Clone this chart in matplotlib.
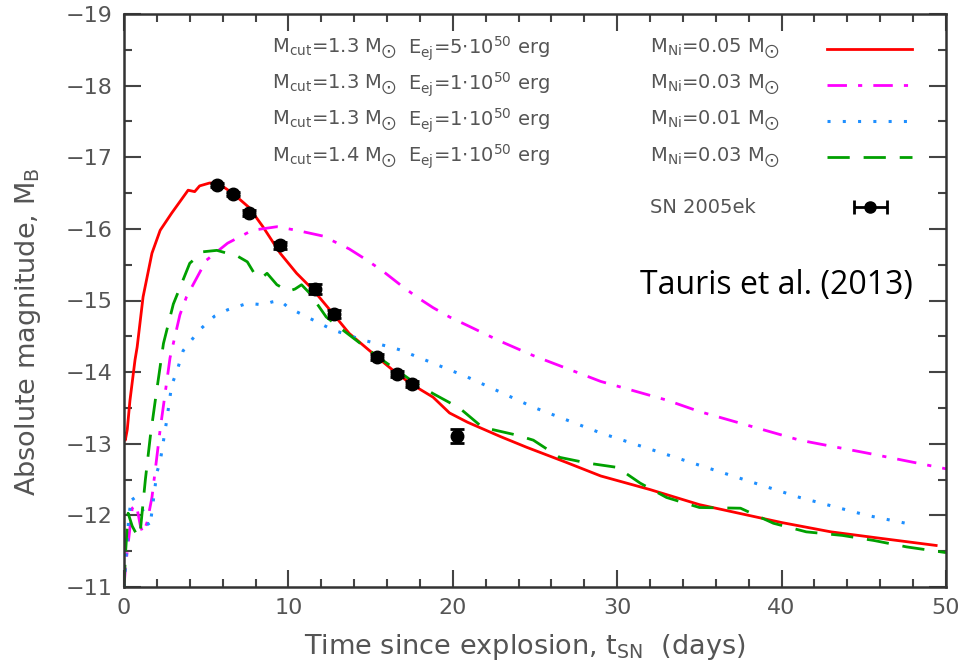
import numpy as np
import matplotlib.pyplot as plt

# model light curves (t in days, absolute B magnitude)
t_red = [0.0, 0.08, 0.2, 0.36, 0.67, 0.8, 1.16, 1.7, 2.2, 2.9, 3.4, 3.9, 4.3, 4.6, 5.2, 5.7,
         6.6, 7.6, 8.45, 9.5, 10.5, 11.5, 12.7, 13.7, 15.4, 16.6, 17.5, 18.8, 19.8, 20.9,
         22.9, 24.5, 26.9, 29.0, 32.0, 35.0, 38.0, 40.0, 43.0, 46.0, 49.4]
m_red = [-13.15, -13.05, -13.2, -13.6, -14.17, -14.35, -15.05, -15.66, -15.98, -16.22, -16.38,
         -16.54, -16.52, -16.6, -16.64, -16.64, -16.5, -16.3, -16.03, -15.66, -15.38, -15.15,
         -14.82, -14.54, -14.21, -13.98, -13.83, -13.65, -13.43, -13.3, -13.1, -12.95, -12.74,
         -12.55, -12.36, -12.15, -12.0, -11.9, -11.77, -11.68, -11.58]

t_mag = [0.0, 0.1, 0.25, 0.5, 0.75, 1.0, 1.16, 1.4, 1.7, 2.2, 2.8, 3.4, 3.8, 5.0, 6.3, 7.8,
         9.3, 10.5, 12.1, 13.7, 14.8, 15.8, 16.8, 17.8, 18.8, 19.8, 20.9, 22.9, 24.9, 29.0,
         33.0, 35.0, 41.1, 45.2, 50.0]
m_mag = [-11.0, -11.3, -11.6, -12.1, -12.15, -11.85, -11.75, -11.9, -12.25, -13.2, -14.2,
         -14.8, -15.05, -15.56, -15.8, -15.98, -16.03, -15.98, -15.9, -15.72, -15.56, -15.4,
         -15.22, -15.05, -14.9, -14.77, -14.65, -14.43, -14.23, -13.87, -13.61, -13.45,
         -13.05, -12.87, -12.65]

t_blue = [0.0, 0.15, 0.3, 0.47, 0.8, 1.08, 1.3, 1.58, 2.0, 2.2, 2.6, 2.9, 3.2, 3.6, 4.6, 5.5,
          6.3, 7.5, 8.5, 9.0, 9.5, 10.0, 10.7, 12.7, 14.5, 16.2, 16.8, 20.9, 24.9, 29.0, 33.0,
          35.0, 41.1, 45.2, 48.2]
m_blue = [-11.0, -11.5, -12.0, -12.26, -12.15, -12.12, -11.95, -11.84, -12.6, -12.75, -13.33,
          -13.82, -14.0, -14.3, -14.59, -14.78, -14.87, -14.96, -14.94, -14.98, -15.0, -14.9,
          -14.82, -14.59, -14.45, -14.35, -14.31, -13.93, -13.51, -13.15, -12.85, -12.7,
          -12.25, -12.0, -11.86]

t_green = [0.0, 0.1, 0.25, 0.5, 0.85, 1.0, 1.3, 1.6, 1.9, 2.4, 3.0, 4.0, 4.8, 5.65, 6.9, 7.5,
           8.0, 8.4, 8.7, 9.3, 10.0, 10.4, 10.8, 11.3, 12.3, 13.3, 15.4, 17.5, 18.8, 20.4,
           21.8, 23.9, 24.9, 26.5, 28.2, 30.0, 31.4, 33.0, 35.0, 37.5, 39.5, 41.5, 43.7,
           45.6, 47.6, 50.0]
m_green = [-11.0, -11.5, -12.03, -11.85, -11.7, -11.8, -12.5, -13.1, -13.6, -14.4, -14.95,
           -15.52, -15.68, -15.7, -15.62, -15.54, -15.35, -15.32, -15.38, -15.22, -15.13,
           -15.16, -15.22, -15.1, -14.77, -14.59, -14.22, -13.88, -13.7, -13.5, -13.23,
           -13.12, -13.05, -12.81, -12.73, -12.67, -12.45, -12.25, -12.11, -12.1, -11.89,
           -11.77, -11.72, -11.65, -11.56, -11.48]

# SN 2005ek photometry
t_obs = [5.66, 6.63, 7.6, 9.49, 11.62, 12.77, 15.39, 16.6, 17.5, 20.26]
m_obs = [-16.61, -16.49, -16.22, -15.77, -15.16, -14.81, -14.21, -13.97, -13.83, -13.11]
e_obs = [0.03, 0.03, 0.04, 0.05, 0.07, 0.06, 0.04, 0.04, 0.04, 0.1]

labels = [
    (r'M$_\mathrm{cut}$=1.3 M$_{\bigodot}$', r'E$_\mathrm{ej}$=5$\cdot$10$^{50}$ erg', r'M$_\mathrm{Ni}$=0.05 M$_{\bigodot}$'),
    (r'M$_\mathrm{cut}$=1.3 M$_{\bigodot}$', r'E$_\mathrm{ej}$=1$\cdot$10$^{50}$ erg', r'M$_\mathrm{Ni}$=0.03 M$_{\bigodot}$'),
    (r'M$_\mathrm{cut}$=1.3 M$_{\bigodot}$', r'E$_\mathrm{ej}$=1$\cdot$10$^{50}$ erg', r'M$_\mathrm{Ni}$=0.01 M$_{\bigodot}$'),
    (r'M$_\mathrm{cut}$=1.4 M$_{\bigodot}$', r'E$_\mathrm{ej}$=1$\cdot$10$^{50}$ erg', r'M$_\mathrm{Ni}$=0.03 M$_{\bigodot}$'),
]

grey = '#555555'
plt.rcParams['font.family'] = 'DejaVu Sans'
plt.rcParams['mathtext.fontset'] = 'custom'
plt.rcParams['mathtext.rm'] = 'DejaVu Sans'
plt.rcParams['mathtext.it'] = 'DejaVu Sans:italic'
plt.rcParams['mathtext.bf'] = 'DejaVu Sans:bold'
plt.rcParams['mathtext.fallback'] = 'stixsans'

fig = plt.figure(figsize=(9.63, 6.7), dpi=100)
ax = fig.add_axes([124/963, 83/670, 822/963, 573/670])

styles = [
    dict(color='#ff0000', lw=2.0, ls='-'),
    dict(color='#ff00ff', lw=2.0, ls=(0, (7, 4, 1.5, 4))),
    dict(color='#1e8fff', lw=2.2, ls=(0, (1, 4))),
    dict(color='#00a000', lw=2.0, ls=(0, (8, 5))),
]
curves = [(t_red, m_red), (t_mag, m_mag), (t_blue, m_blue), (t_green, m_green)]
for (t, m), st in zip(curves, styles):
    ax.plot(t, m, **st)

ax.errorbar(t_obs, m_obs, yerr=e_obs, fmt='o', color='black', ms=9, capsize=5,
            elinewidth=2, capthick=2, zorder=5)

ax.set_xlim(0, 50)
ax.set_ylim(-11, -19)
ax.set_xticks(np.arange(0, 51, 10))
ax.set_xticks(np.arange(0, 51, 2), minor=True)
ax.set_yticks(np.arange(-19, -10.5, 1))
ax.set_yticks(np.arange(-19, -10.5, 0.5), minor=True)
ax.tick_params(which='both', direction='in', top=True, right=True, colors='#444444',
               labelcolor=grey, labelsize=16, width=1.5)
ax.tick_params(which='major', length=12, pad=8)
ax.tick_params(which='minor', length=6)
for sp in ax.spines.values():
    sp.set_color('#333333')
    sp.set_linewidth(1.8)

ax.set_xlabel(r'Time since explosion, t$_\mathrm{SN}$  (days)', fontsize=19.5, color=grey)
ax.xaxis.set_label_coords(0.488, -0.078)
ax.set_ylabel(r'Absolute magnitude, M$_\mathrm{B}$', fontsize=19.5, color=grey)
ax.yaxis.set_label_coords(-0.098, 0.445)

# legend built by hand, three text columns plus a line sample
rows_y = [0.939, 0.876, 0.813, 0.750]
for y, (a, b, c), st in zip(rows_y, labels, styles):
    ax.text(0.180, y, a, transform=ax.transAxes, fontsize=14, color=grey, va='center')
    ax.text(0.345, y, b, transform=ax.transAxes, fontsize=14, color=grey, va='center')
    ax.text(0.640, y, c, transform=ax.transAxes, fontsize=14, color=grey, va='center')
    ax.plot([0.855, 0.959], [y, y], transform=ax.transAxes, **st)
ax.text(0.640, 0.663, 'SN 2005ek', transform=ax.transAxes, fontsize=14, color=grey, va='center')
ax.errorbar([0.908], [0.663], xerr=[0.02], fmt='o', color='black', ms=8, capsize=5,
            elinewidth=2, capthick=2, transform=ax.transAxes)

ax.text(0.794, 0.527, 'Tauris et al. (2013)', transform=ax.transAxes, fontsize=23,
        family='Open Sans', color='black', ha='center', va='center')

fig.savefig('out.png', dpi=100)
